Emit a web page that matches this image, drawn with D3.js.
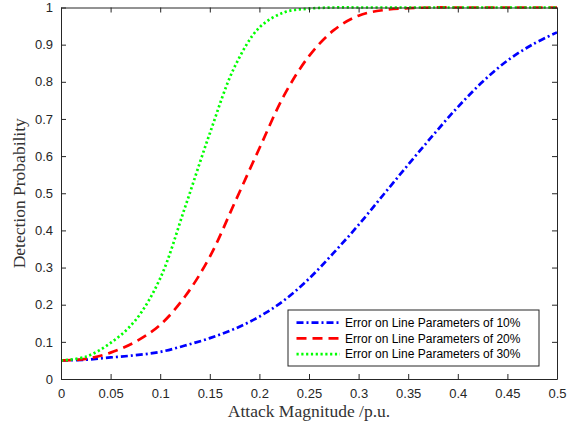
<!DOCTYPE html>
<html>
<head>
<meta charset="utf-8">
<script src="https://cdn.jsdelivr.net/npm/d3@7"></script>
<style>
  body { margin: 0; background: #fff; }
  svg { display: block; }
</style>
</head>
<body>
<div class="canvas"></div>
<script>
// data
const magnitudes = [0, 0.025, 0.05, 0.075, 0.1, 0.125, 0.15, 0.175, 0.2, 0.225, 0.25,
  0.275, 0.3, 0.325, 0.35, 0.375, 0.4, 0.425, 0.45, 0.475, 0.5];
const err10 = [0.05, 0.052, 0.058, 0.064, 0.073, 0.09, 0.11, 0.135, 0.168, 0.212, 0.27,
  0.34, 0.415, 0.496, 0.577, 0.656, 0.732, 0.8, 0.857, 0.9, 0.933];
const err20 = [0.05, 0.054, 0.071, 0.1, 0.146, 0.222, 0.329, 0.474, 0.621, 0.764, 0.869,
  0.939, 0.978, 0.993, 0.998, 1, 1, 1, 1, 1, 1];
const err30 = [0.05, 0.06, 0.097, 0.158, 0.271, 0.462, 0.661, 0.84, 0.946, 0.987, 0.997,
  1, 1, 1, 1, 1, 1, 1, 1, 1, 1];
const seriesNames = ['Error on Line Parameters of 10%', 'Error on Line Parameters of 20%',
  'Error on Line Parameters of 30%'];
const xTicks = [0, 0.05, 0.1, 0.15, 0.2, 0.25, 0.3, 0.35, 0.4, 0.45, 0.5];
const yTicks = [0, 0.1, 0.2, 0.3, 0.4, 0.5, 0.6, 0.7, 0.8, 0.9, 1];

const width = 580, height = 428;
const margin = {top: 7.5, right: 23, bottom: 49, left: 61};
const graphWidth = width - margin.left - margin.right;
const graphHeight = height - margin.top - margin.bottom;
const axisColor = '#262626';

const svg = d3.select('.canvas')
  .append('svg')
    .attr('width', width)
    .attr('height', height);

const graph = svg.append('g')
  .attr('transform', `translate(${margin.left}, ${margin.top})`);

const x = d3.scaleLinear().domain([0, 0.5]).range([0, graphWidth]);
const y = d3.scaleLinear().domain([0, 1]).range([graphHeight, 0]);

// lines
const styles = [
  {color: '#0000ff', dash: '7,3,2,3'},
  {color: '#ff0000', dash: '10,6'},
  {color: '#00ff00', dash: '2.2,2.6'}
];
const series = [err10, err20, err30];

const line = d3.line()
  .x((d, i) => x(magnitudes[i]))
  .y(d => y(d))
  .curve(d3.curveCatmullRom.alpha(0.5));

series.forEach((vals, k) => {
  graph.append('path')
    .datum(vals)
    .attr('fill', 'none')
    .attr('stroke', styles[k].color)
    .attr('stroke-width', 2.7)
    .attr('stroke-dasharray', styles[k].dash)
    .attr('d', line);
});

// axes, ticks inside, box on all sides
const fmt = d => d3.format('')(+d.toFixed(2));
const xAxis = d3.axisBottom(x).tickValues(xTicks).tickSizeInner(-5).tickSizeOuter(0).tickPadding(10).tickFormat(fmt);
const xAxisTop = d3.axisTop(x).tickValues(xTicks).tickSizeInner(-5).tickSizeOuter(0).tickFormat('');
const yAxis = d3.axisLeft(y).tickValues(yTicks).tickSizeInner(-5).tickSizeOuter(0).tickPadding(8).tickFormat(fmt);
const yAxisRight = d3.axisRight(y).tickValues(yTicks).tickSizeInner(-5).tickSizeOuter(0).tickFormat('');

const groups = [
  graph.append('g').attr('transform', `translate(0, ${graphHeight})`).call(xAxis),
  graph.append('g').call(xAxisTop),
  graph.append('g').call(yAxis),
  graph.append('g').attr('transform', `translate(${graphWidth}, 0)`).call(yAxisRight)
];
groups.forEach(g => {
  g.select('.domain').attr('stroke', axisColor).attr('stroke-width', 1);
  g.selectAll('.tick line').attr('stroke', axisColor);
  g.selectAll('.tick text')
    .attr('fill', axisColor)
    .style('font-family', '"Liberation Sans", Arial, sans-serif')
    .style('font-size', '13px');
});

// axis labels
svg.append('text')
  .attr('x', margin.left + graphWidth / 2)
  .attr('y', 417)
  .attr('text-anchor', 'middle')
  .attr('fill', '#333')
  .style('font-family', '"Liberation Serif", "DejaVu Serif", serif')
  .style('font-size', '17.5px')
  .text('Attack Magnitude /p.u.');

svg.append('text')
  .attr('transform', `translate(25, ${margin.top + graphHeight / 2}) rotate(-90)`)
  .attr('text-anchor', 'middle')
  .attr('fill', '#333')
  .style('font-family', '"Liberation Serif", "DejaVu Serif", serif')
  .style('font-size', '17.5px')
  .text('Detection Probability');

// legend
const legend = svg.append('g').attr('transform', 'translate(288, 310)');
legend.append('rect')
  .attr('width', 251)
  .attr('height', 56)
  .attr('fill', '#fff')
  .attr('stroke', axisColor)
  .attr('stroke-width', 1);

seriesNames.forEach((name, k) => {
  const row = legend.append('g').attr('transform', `translate(0, ${12.7 + k * 15.7})`);
  row.append('line')
    .attr('x1', 8.5).attr('x2', 52)
    .attr('stroke', styles[k].color)
    .attr('stroke-width', 2.7)
    .attr('stroke-dasharray', styles[k].dash);
  row.append('text')
    .attr('x', 57)
    .attr('dy', '0.35em')
    .attr('fill', '#000')
    .style('font-family', '"Liberation Sans", Arial, sans-serif')
    .style('font-size', '12px')
    .text(name);
});
</script>
</body>
</html>
